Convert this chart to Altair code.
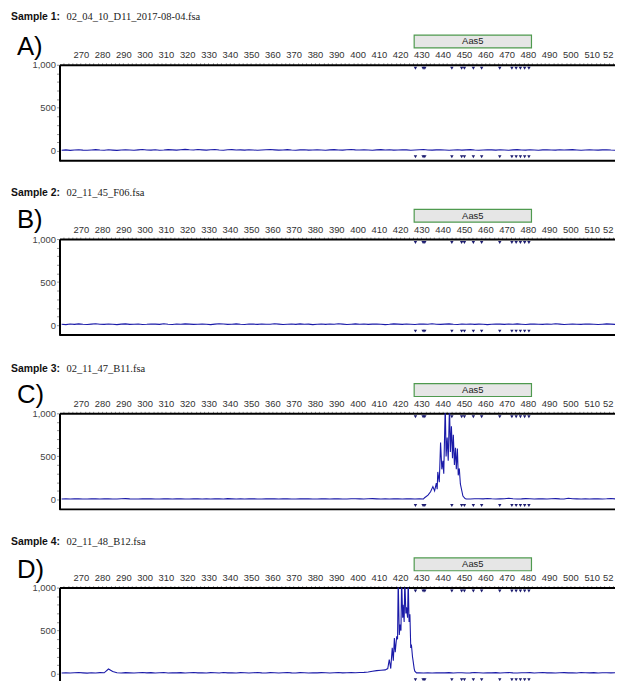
import altair as alt
import pandas as pd

# ---------------- data ----------------
x_ticks = list(range(262, 522, 2))          # top-axis tick positions (bp)
y_ticks = list(range(0, 1001, 100))         # left-axis tick positions (RFU)

bin_name = "Aas5"
bin_start = 426.6
bin_end = 481.7
bin_markers = [427.2, 430.8, 431.6, 444.3, 448.9, 450.2, 454.4, 458.3,
               466.8, 472.5, 474.5, 476.5, 478.5, 480.5]

sample_ids = ["Sample 1:", "Sample 2:", "Sample 3:", "Sample 4:"]
file_names = ["02_04_10_D11_2017-08-04.fsa", "02_11_45_F06.fsa",
              "02_11_47_B11.fsa", "02_11_48_B12.fsa"]
panel_letters = ["A)", "B)", "C)", "D)"]

base_x = list(range(261, 522, 2))
base_a = [8, 12, 6, 10, 14, 9, 7, 11, 15, 10,
          8, 13, 9, 6, 11, 14, 10, 7, 12, 16,
          11, 9, 13, 8, 10, 15, 12, 9, 14, 18,
          13, 10, 16, 12, 9, 14, 17, 11, 8, 13,
          15, 10, 12, 9, 14, 11, 7, 10, 13, 16,
          12, 9, 11, 15, 10, 8, 12, 14, 9, 11,
          13, 10, 7, 12, 15, 11, 9, 13, 16, 12,
          10, 14, 11, 8, 12, 15, 10, 13, 9, 11,
          14, 12, 8, 10, 13, 16, 11, 9, 12, 14,
          10, 7, 11, 13, 9, 12, 15, 10, 8, 11,
          14, 12, 9, 13, 10, 7, 12, 15, 11, 9,
          13, 10, 8, 12, 14, 11, 9, 13, 10, 12,
          15, 11, 8, 10, 13, 11, 9, 12, 14, 10,
          8]
base_b = [11, 7, 13, 9, 15, 10, 8, 12, 16, 11,
          9, 14, 10, 7, 12, 15, 9, 11, 13, 8,
          10, 14, 12, 9, 16, 11, 8, 13, 10, 15,
          12, 9, 11, 14, 10, 7, 12, 16, 13, 9,
          11, 15, 10, 8, 13, 12, 9, 14, 11, 10,
          16, 12, 8, 11, 13, 9, 15, 10, 12, 7,
          11, 14, 9, 13, 10, 16, 12, 8, 11, 15,
          10, 13, 9, 12, 14, 11, 7, 10, 15, 12,
          9, 13, 11, 8, 14, 12, 10, 16, 11, 9,
          12, 15, 10, 8, 13, 11, 14, 9, 12, 10,
          7, 11, 14, 12, 9, 13, 10, 15, 11, 8,
          12, 14, 10, 9, 13, 11, 16, 12, 8, 10,
          13, 11, 9, 14, 12, 10, 8, 11, 15, 12,
          9]
base_c = [6, 8, 5, 7, 9, 6, 5, 8, 7, 6,
          9, 7, 5, 6, 8, 10, 7, 6, 5, 8,
          7, 9, 6, 5, 7, 8, 6, 9, 7, 5,
          6, 8, 7, 5, 9, 6, 7, 8, 6, 10,
          7, 5, 8, 6, 9, 7, 6, 5, 8, 7,
          9, 6, 7, 8, 5, 6, 9, 7, 8, 6,
          5, 7, 9, 6, 8, 7, 5, 6, 9, 8,
          7, 6, 8, 10, 7, 5, 9, 6, 7, 8,
          6, 9, 7, 5, 8, 6, 10, 7, 6, 8,
          7, 6, 9, 8, 5, 7, 6, 8, 9, 7,
          12, 8, 6, 7, 9, 14, 8, 6, 7, 10,
          8, 6, 9, 7, 5, 8, 10, 7, 6, 14,
          9, 7, 6, 8, 5, 7, 9, 6, 8, 12,
          7]
base_d = [9, 12, 8, 11, 14, 10, 7, 12, 9, 13,
          11, 55, 25, 12, 9, 13, 10, 8, 12, 14,
          10, 13, 9, 11, 14, 8, 12, 10, 13, 9,
          11, 14, 10, 12, 8, 13, 11, 9, 14, 10,
          12, 9, 13, 11, 8, 12, 14, 10, 9, 13,
          11, 8, 12, 14, 10, 9, 13, 11, 8, 12,
          10, 13, 11, 9, 12, 14, 10, 11, 13, 12,
          14, 16, 20, 28, 36, 40, 45, 50, 55, 60,
          40, 35, 30, 20, 10, 8, 11, 9, 12, 10,
          10, 13, 9, 11, 12, 8, 10, 14, 11, 9,
          12, 10, 13, 9, 11, 14, 10, 8, 12, 11,
          13, 9, 11, 14, 10, 12, 8, 11, 13, 10,
          12, 9, 14, 11, 10, 13, 9, 12, 11, 10,
          12]

peak_c_x = [431.5, 433.1, 434.3, 435.4, 436.2, 437.0, 437.4, 437.7, 438.4, 439.0,
            439.6, 440.1, 440.5, 441.2, 441.6, 442.1, 442.6, 443.2, 443.6, 444.1,
            444.6, 445.0, 445.5, 446.0, 446.4, 446.9, 447.3, 447.8, 448.3, 448.9,
            449.5, 450.5]
peak_c_y = [20, 50, 90, 150, 100, 190, 120, 320, 200, 660,
            350, 450, 300, 1100, 500, 720, 450, 1100, 550, 850,
            480, 750, 400, 600, 350, 590, 280, 360, 180, 110,
            40, 10]
peak_d_x = [414.2, 414.9, 415.6, 416.3, 416.8, 417.3, 417.7, 418.4, 418.8, 419.1,
            419.6, 420.0, 420.4, 420.7, 421.2, 421.4, 421.9, 422.2, 422.7, 423.0,
            423.5, 423.8, 424.2, 424.6, 425.0, 425.3, 425.8, 426.1, 426.6, 426.9,
            427.7]
peak_d_y = [60, 165, 60, 300, 150, 415, 250, 435, 400, 1100,
            450, 570, 500, 1100, 650, 800, 600, 1100, 700, 770,
            650, 1100, 600, 690, 300, 340, 200, 150, 60, 30,
            10]


def merge(base_y, px=None, py=None):
    pts = [(x, y) for x, y in zip(base_x, base_y)
           if not px or not (px[0] <= x <= px[-1])]
    if px:
        pts += list(zip(px, py))
    pts.sort()
    return pd.DataFrame(pts, columns=["bp", "rfu"])


traces = [merge(base_a), merge(base_b),
          merge(base_c, peak_c_x, peak_c_y), merge(base_d, peak_d_x, peak_d_y)]

# ---------------- layout / style ----------------
W, H = 562, 97
XDOM = [260.0, 521.4]
YDOM = [-115, 1000]
title_dy = [-48.5, -46.5, -45, -46]
letter_base = [-10, -11, -10, -10]
TRACE = "#1a1aa8"
MARK = "#1c1c70"

xscale = alt.Scale(domain=XDOM, nice=False, zero=False)
yscale = alt.Scale(domain=YDOM, nice=False, zero=False)

x_axis = alt.Axis(orient="top", values=x_ticks,
                  labelExpr="datum.value == 520 ? '52' : (datum.value % 10 == 0 ? format(datum.value, 'd') : '')",
                  labelAlign={"condition": {"test": "datum.value == 520", "value": "right"},
                              "value": "center"},
                  labelOverlap=False, labelFlush=False, tickSize=2, tickColor="#666",
                  tickWidth=0.7, domainColor="#000", domainWidth=2, labelPadding=3,
                  labelFontSize=9.5, labelColor="#333", labelFont="Liberation Sans",
                  grid=False, title=None)
y_axis = alt.Axis(orient="left", values=y_ticks,
                  labelExpr="datum.value % 500 == 0 ? format(datum.value, ',') : ''",
                  labelOverlap=False, labelFlush=False, tickSize=3, tickColor="#666",
                  tickWidth=0.7, domainColor="#000", domainWidth=2, labelPadding=1,
                  labelFontSize=9.5, labelColor="#444", labelFont="Liberation Sans",
                  grid=False, title=None)

bins_df = pd.DataFrame({"start": [bin_start], "end": [bin_end],
                        "mid": [(bin_start + bin_end) / 2], "name": [bin_name]})
markers_df = pd.DataFrame({"bp": bin_markers})
one = pd.DataFrame({"k": [0]})


def panel(i):
    X = lambda f: alt.X(f, scale=xscale, axis=x_axis)
    line = alt.Chart(traces[i]).mark_line(color=TRACE, strokeWidth=1.1, clip=True).encode(
        x=X("bp:Q"),
        y=alt.Y("rfu:Q", scale=yscale, axis=y_axis),
    )
    box = alt.Chart(bins_df).mark_rect(fill="#e6e6e6", stroke="#4f9a4f", strokeWidth=1.2).encode(
        x=X("start:Q"), x2="end:Q",
        y=alt.value(-30), y2=alt.value(-17),
    )
    box_txt = alt.Chart(bins_df).mark_text(fontSize=9.5, font="Liberation Sans", color="#222",
                                           baseline="middle").encode(
        x=X("mid:Q"), y=alt.value(-23.5), text="name:N",
    )
    mk_top = alt.Chart(markers_df).mark_point(shape="triangle-down", filled=True, size=12,
                                              color=MARK, opacity=1).encode(
        x=X("bp:Q"), y=alt.value(3.5),
    )
    mk_bot = alt.Chart(markers_df).mark_point(shape="triangle-down", filled=True, size=12,
                                              color=MARK, opacity=1).encode(
        x=X("bp:Q"), y=alt.value(93),
    )
    bottom = alt.Chart(one).mark_rule(color="#000", strokeWidth=2).encode(
        x=alt.value(0), x2=alt.value(W), y=alt.value(H),
    )
    spacer = alt.Chart(one).mark_rule(color="#ffffff", strokeWidth=0.5).encode(
        x=alt.value(0), x2=alt.value(1), y=alt.value(-60),
    )
    t1 = alt.Chart(one).mark_text(text=sample_ids[i], align="left", baseline="middle",
                                  font="Liberation Sans", fontWeight="bold", fontSize=10.5,
                                  color="#111").encode(x=alt.value(-49), y=alt.value(title_dy[i]))
    t2 = alt.Chart(one).mark_text(text=file_names[i], align="left", baseline="middle",
                                  font="Liberation Serif", fontSize=10.6,
                                  color="#222").encode(x=alt.value(7), y=alt.value(title_dy[i]))
    lt = alt.Chart(one).mark_text(text=panel_letters[i], align="left", baseline="alphabetic",
                                  font="Liberation Sans", fontSize=26,
                                  color="#000").encode(x=alt.value(-43), y=alt.value(letter_base[i]))
    return alt.layer(line, box, box_txt, mk_top, mk_bot, bottom, spacer, t1, t2, lt).properties(
        width=W, height=H)


chart = alt.vconcat(*[panel(i) for i in range(4)], spacing=17).properties(
    padding={"left": 3, "top": -7, "right": -2, "bottom": -7},
).configure_view(strokeWidth=0)

chart.save("out.html", embed_options={"renderer": "svg", "actions": False})
